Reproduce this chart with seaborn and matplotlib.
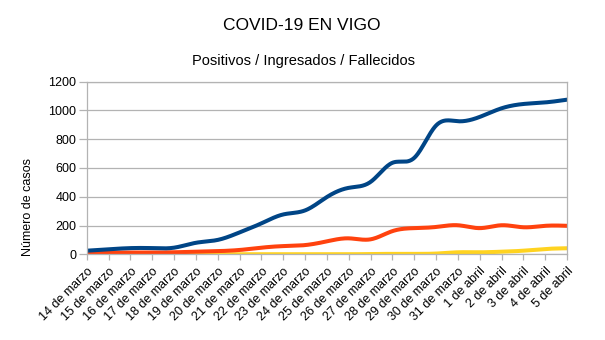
import numpy as np
import pandas as pd
import matplotlib
matplotlib.use("Agg")
import matplotlib.pyplot as plt
import seaborn as sns

fechas = ["14 de marzo", "15 de marzo", "16 de marzo", "17 de marzo", "18 de marzo",
          "19 de marzo", "20 de marzo", "21 de marzo", "22 de marzo", "23 de marzo",
          "24 de marzo", "25 de marzo", "26 de marzo", "27 de marzo", "28 de marzo",
          "29 de marzo", "30 de marzo", "31 de marzo", "1 de abril", "2 de abril",
          "3 de abril", "4 de abril", "5 de abril"]
positivos = [25, 35, 43, 43, 46, 80, 100, 152, 215, 277, 305, 398, 462, 503, 636,
             670, 895, 925, 955, 1015, 1045, 1056, 1075]
ingresados = [12, 12, 12, 12, 14, 18, 22, 30, 46, 57, 64, 90, 111, 104, 161,
              182, 190, 202, 182, 202, 188, 198, 198]
fallecidos = [0, 0, 0, 0, 0, 0, 0, 0, 0, 0, 0, 0, 0, 2, 3, 3, 5, 14, 14, 18, 25, 37, 42]
series_names = ["Positivos", "Ingresados", "Fallecidos"]
y_ticks = [0, 200, 400, 600, 800, 1000, 1200]


def natural_spline(x, y, xs):
    x = np.asarray(x, float)
    y = np.asarray(y, float)
    n = len(x)
    h = np.diff(x)
    A = np.zeros((n, n))
    b = np.zeros(n)
    A[0, 0] = 1
    A[-1, -1] = 1
    for i in range(1, n - 1):
        A[i, i - 1] = h[i - 1]
        A[i, i] = 2 * (h[i - 1] + h[i])
        A[i, i + 1] = h[i]
        b[i] = 6 * ((y[i + 1] - y[i]) / h[i] - (y[i] - y[i - 1]) / h[i - 1])
    M = np.linalg.solve(A, b)
    idx = np.clip(np.searchsorted(x, xs) - 1, 0, n - 2)
    x0, x1 = x[idx], x[idx + 1]
    hh = x1 - x0
    t0 = x1 - xs
    t1 = xs - x0
    return (M[idx] * t0 ** 3 / (6 * hh) + M[idx + 1] * t1 ** 3 / (6 * hh)
            + (y[idx] / hh - M[idx] * hh / 6) * t0
            + (y[idx + 1] / hh - M[idx + 1] * hh / 6) * t1)


sns.set_theme(style="white")
plt.rcParams["font.family"] = ["Liberation Sans", "DejaVu Sans"]

xi = np.arange(len(fechas))
xs = np.linspace(0, len(fechas) - 1, 600)
frames = []
for name, vals in zip(series_names, [positivos, ingresados, fallecidos]):
    frames.append(pd.DataFrame({"x": xs, "valor": natural_spline(xi, vals, xs), "serie": name}))
df = pd.concat(frames, ignore_index=True)

fig = plt.figure(figsize=(6.05, 3.40), dpi=100)
ax = fig.add_axes([86.7 / 605, 1 - 254.3 / 340, (567 - 86.7) / 605, (254.3 - 81.7) / 340])

palette = {"Positivos": "#004586", "Ingresados": "#ff420e", "Fallecidos": "#ffd320"}
sns.lineplot(data=df, x="x", y="valor", hue="serie", palette=palette,
             hue_order=series_names[::-1], linewidth=2.9, legend=False, ax=ax,
             estimator=None, sort=False)

ax.set_xlim(0, len(fechas) - 1)
ax.set_ylim(0, 1200)
ax.set_yticks(y_ticks)
ax.set_yticklabels([str(v) for v in y_ticks])
ax.set_xticks(xi)
ax.set_xticklabels(fechas, rotation=45, ha="right", va="top", rotation_mode="anchor")
ax.set_xlabel("")
ax.set_ylabel("")

grid_c = "#b3b3b3"
ax.yaxis.grid(True, color=grid_c, linewidth=0.9)
ax.xaxis.grid(False)
ax.set_axisbelow(True)
for side in ["left", "right", "bottom", "top"]:
    ax.spines[side].set_visible(True)
    ax.spines[side].set_color(grid_c)
    ax.spines[side].set_linewidth(0.9)
ax.tick_params(axis="y", which="both", left=True, length=6, width=0.9, color=grid_c,
               pad=1.5, labelsize=9, labelcolor="#000000")
ax.tick_params(axis="x", which="both", bottom=True, length=4, width=0.9, color=grid_c,
               pad=4, labelsize=9, labelcolor="#000000")

fig.text(302 / 605, 1 - 26 / 340, "COVID-19 EN VIGO", ha="center", va="center",
         fontsize=12.5, color="#000000")
fig.text(304 / 605, 1 - 61 / 340, "Positivos / Ingresados / Fallecidos", ha="center",
         va="center", fontsize=10.5, color="#000000")
fig.text(28 / 605, 1 - 207 / 340, "Número de casos", rotation=90, ha="center",
         va="center", fontsize=9, color="#000000")

fig.savefig("out.png", dpi=100)
